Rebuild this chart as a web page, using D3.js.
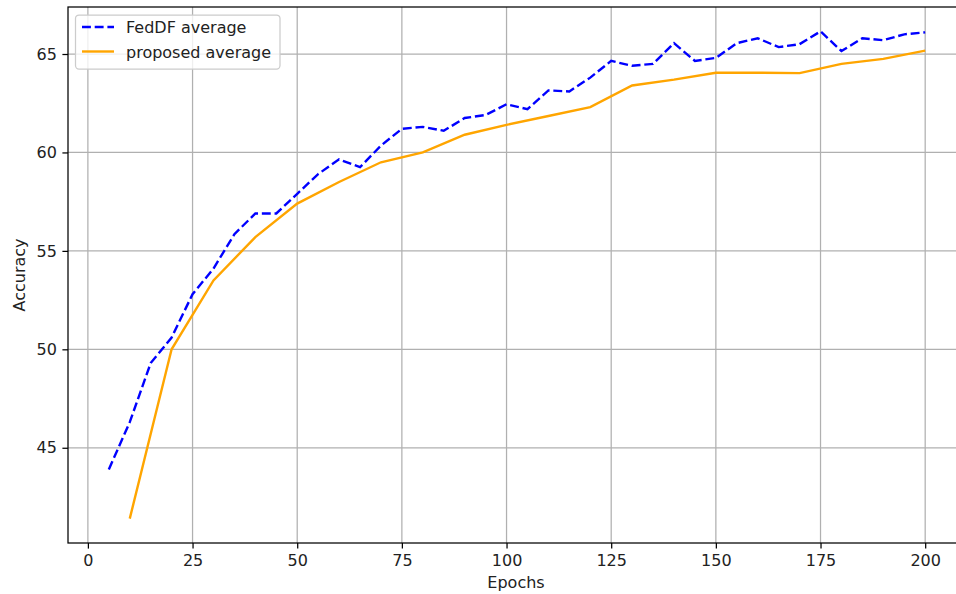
<!DOCTYPE html>
<html>
<head>
<meta charset="utf-8">
<script src="https://cdn.jsdelivr.net/npm/d3@7/dist/d3.min.js"></script>
<style>
  body { margin: 0; background: #fff; }
  svg { display: block; font-family: "DejaVu Sans", sans-serif; }
</style>
</head>
<body>
<svg id="chart" width="956" height="594"></svg>
<script>
// epochs for each series
var fedEpochs = [5,10,15,20,25,30,35,40,45,50,55,60,65,70,75,80,85,90,95,100,
                 105,110,115,120,125,130,135,140,145,150,155,160,165,170,175,180,185,190,195,200];
var fedAcc    = [43.9,46.3,49.3,50.6,52.8,54.1,55.85,56.9,56.9,57.9,
                 58.9,59.65,59.25,60.35,61.2,61.3,61.1,61.75,61.9,62.45,
                 62.2,63.15,63.1,63.8,64.65,64.4,64.5,65.55,64.65,64.8,
                 65.55,65.8,65.35,65.5,66.15,65.15,65.8,65.7,66.0,66.1];

var propEpochs = [10,20,30,40,50,60,70,80,90,100,110,120,130,140,150,160,170,180,190,200];
var propAcc    = [41.4,50.0,53.5,55.7,57.4,58.5,59.5,60.0,60.9,61.4,
                  61.85,62.3,63.4,63.7,64.05,64.05,64.03,64.5,64.75,65.17];

var xTicks = [0,25,50,75,100,125,150,175,200];
var yTicks = [45,50,55,60,65];

var seriesNames = ["FedDF average", "proposed average"];
var seriesColors = ["#0000ff", "#ffa500"];

// sizes in px (figure drawn at about 115 dpi)
var fontSize = "16px", lineW = 2.4, dash = "8.9,3.8", gridW = 1.25, tickLen = 5.6;

var svg = d3.select("#chart");
var axLeft = 68, axTop = 7, axBottom = 543;

// matplotlib style 5% margins around the data
function padded(vals) {
	var lo = d3.min(vals), hi = d3.max(vals), m = (hi - lo) * 0.05;
	return [lo - m, hi + m];
}
var xDom = padded(fedEpochs.concat(propEpochs));
var yDom = padded(fedAcc.concat(propAcc));

var pxPerEpoch = (925 - 87.7) / 200;
var axRight = axLeft + (xDom[1] - xDom[0]) * pxPerEpoch;

var x = d3.scaleLinear().domain(xDom).range([axLeft, axRight]);
var y = d3.scaleLinear().domain(yDom).range([axBottom, axTop]);

// grid
svg.append("g").selectAll("line").data(xTicks).enter().append("line")
	.attr("x1", function(d){ return x(d); }).attr("x2", function(d){ return x(d); })
	.attr("y1", axTop).attr("y2", axBottom)
	.attr("stroke", "#b0b0b0").attr("stroke-width", gridW);
svg.append("g").selectAll("line").data(yTicks).enter().append("line")
	.attr("x1", axLeft).attr("x2", axRight)
	.attr("y1", function(d){ return y(d); }).attr("y2", function(d){ return y(d); })
	.attr("stroke", "#b0b0b0").attr("stroke-width", gridW);

// lines
var line = d3.line()
	.x(function(d){ return x(d[0]); })
	.y(function(d){ return y(d[1]); });

svg.append("path")
	.datum(d3.zip(fedEpochs, fedAcc))
	.attr("d", line)
	.attr("fill", "none").attr("stroke", seriesColors[0])
	.attr("stroke-width", lineW).attr("stroke-dasharray", dash);

svg.append("path")
	.datum(d3.zip(propEpochs, propAcc))
	.attr("d", line)
	.attr("fill", "none").attr("stroke", seriesColors[1])
	.attr("stroke-width", lineW);

// axes
var xAxis = svg.append("g").attr("transform", "translate(0," + axBottom + ")")
	.call(d3.axisBottom(x).tickValues(xTicks).tickSize(tickLen).tickPadding(tickLen));
var yAxis = svg.append("g").attr("transform", "translate(" + axLeft + ",0)")
	.call(d3.axisLeft(y).tickValues(yTicks).tickSize(tickLen).tickPadding(tickLen));

[xAxis, yAxis].forEach(function(a) {
	a.select(".domain").remove();
	a.selectAll("line").attr("stroke", "#000").attr("stroke-width", gridW);
	a.selectAll("text").attr("font-size", fontSize).attr("fill", "#222")
		.attr("font-family", "DejaVu Sans, sans-serif");
});

// spines (right spine falls outside the picture)
svg.append("rect")
	.attr("x", axLeft).attr("y", axTop)
	.attr("width", axRight - axLeft).attr("height", axBottom - axTop)
	.attr("fill", "none").attr("stroke", "#000").attr("stroke-width", gridW);

// axis labels
svg.append("text").text("Epochs")
	.attr("x", 516).attr("y", 588)
	.attr("text-anchor", "middle").attr("font-size", fontSize).attr("fill", "#222");
svg.append("text").text("Accuracy")
	.attr("transform", "translate(24.5," + ((axTop + axBottom) / 2) + ") rotate(-90)")
	.attr("text-anchor", "middle").attr("font-size", fontSize).attr("fill", "#222");

// legend
var lg = svg.append("g");
lg.append("rect")
	.attr("x", 75.5).attr("y", 15).attr("width", 204.5).attr("height", 54)
	.attr("rx", 3.5).attr("fill", "#fff").attr("fill-opacity", 0.8)
	.attr("stroke", "#cccccc").attr("stroke-width", gridW);

var rowY = [27, 51.5];
lg.selectAll(".handle").data(seriesNames).enter().append("line")
	.attr("x1", 82).attr("x2", 114)
	.attr("y1", function(d, i){ return rowY[i]; })
	.attr("y2", function(d, i){ return rowY[i]; })
	.attr("stroke", function(d, i){ return seriesColors[i]; })
	.attr("stroke-width", lineW)
	.attr("stroke-dasharray", function(d, i){ return i == 0 ? dash : null; });

lg.selectAll(".label").data(seriesNames).enter().append("text")
	.text(function(d){ return d; })
	.attr("x", 126)
	.attr("y", function(d, i){ return rowY[i] + 6; })
	.attr("font-size", fontSize).attr("fill", "#222");
</script>
</body>
</html>
